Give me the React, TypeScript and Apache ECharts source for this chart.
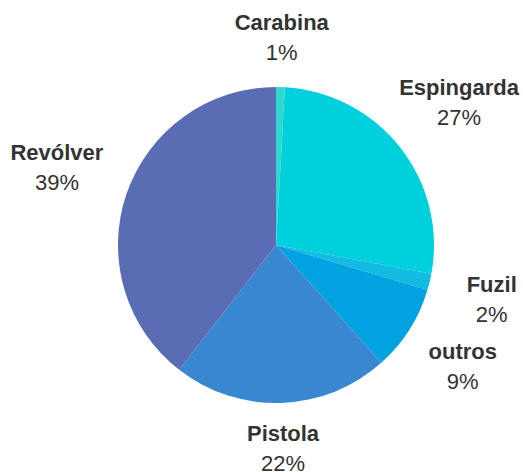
import React, { useEffect, useRef } from "react";
import * as echarts from "echarts";

const categories = ["Carabina", "Espingarda", "Fuzil", "outros", "Pistola", "Revólver"];
const values = [0.9, 27.0, 1.7, 8.8, 22.1, 39.5];
const colors = ["#2ed8d0", "#00cfdc", "#12bbe0", "#00a3df", "#3987d0", "#5a6cb4"];

const CX = 276;
const CY = 245;
const R = 158;
const GAP = 18;
// small label nudges (px) to mimic the reference label placement
const labelNudge: [number, number][] = [
  [0, -4],
  [-5, 5],
  [15, 6],
  [2, 4],
  [0, 0],
  [-3, -4],
];

export default function App() {
  const ref = useRef<HTMLDivElement>(null);
  useEffect(() => {
    if (!ref.current) return;
    const chart = echarts.init(ref.current, null, { renderer: "svg" });
    const total = values.reduce((s, v) => s + v, 0);
    const cum: number[] = [];
    let acc = 0;
    values.forEach((v) => {
      cum.push(acc + v / 2);
      acc += v;
    });
    chart.setOption({
      animation: false,
      backgroundColor: "#ffffff",
      series: [
        {
          type: "pie",
          center: [CX, CY],
          radius: R,
          startAngle: 90,
          clockwise: true,
          percentPrecision: 0,
          avoidLabelOverlap: false,
          data: categories.map((name, i) => ({
            name,
            value: values[i],
            itemStyle: { color: colors[i] },
          })),
          itemStyle: { borderWidth: 0 },
          label: {
            show: true,
            position: "outside",
            formatter: "{name|{b}}\n{pct|{d}%}",
            fontFamily: "Liberation Sans, Arial, sans-serif",
            rich: {
              name: {
                fontFamily: "Liberation Sans, Arial, sans-serif",
                fontWeight: "bold",
                fontSize: 22,
                lineHeight: 30,
                color: "#333333",
                align: "center",
              },
              pct: {
                fontFamily: "Liberation Sans, Arial, sans-serif",
                fontSize: 22,
                lineHeight: 30,
                color: "#333333",
                align: "center",
              },
            },
          },
          labelLine: { show: false },
          labelLayout: (params: any) => {
            const i = params.dataIndex;
            const theta = (cum[i] / total) * Math.PI * 2;
            const dx = Math.sin(theta);
            const dy = -Math.cos(theta);
            const a = params.labelRect.width / 2;
            const b = params.labelRect.height / 2;
            const d = R + GAP + a * Math.abs(dx) + b * Math.abs(dy);
            const n = labelNudge[i] || [0, 0];
            return {
              x: CX + dx * d + n[0],
              y: CY + dy * d + n[1],
              align: "center",
              verticalAlign: "middle",
            };
          },
        },
      ],
    });
    return () => chart.dispose();
  }, []);
  return (
    <div
      ref={ref}
      style={{ position: "fixed", left: 0, top: 0, width: 523, height: 472 }}
    />
  );
}
